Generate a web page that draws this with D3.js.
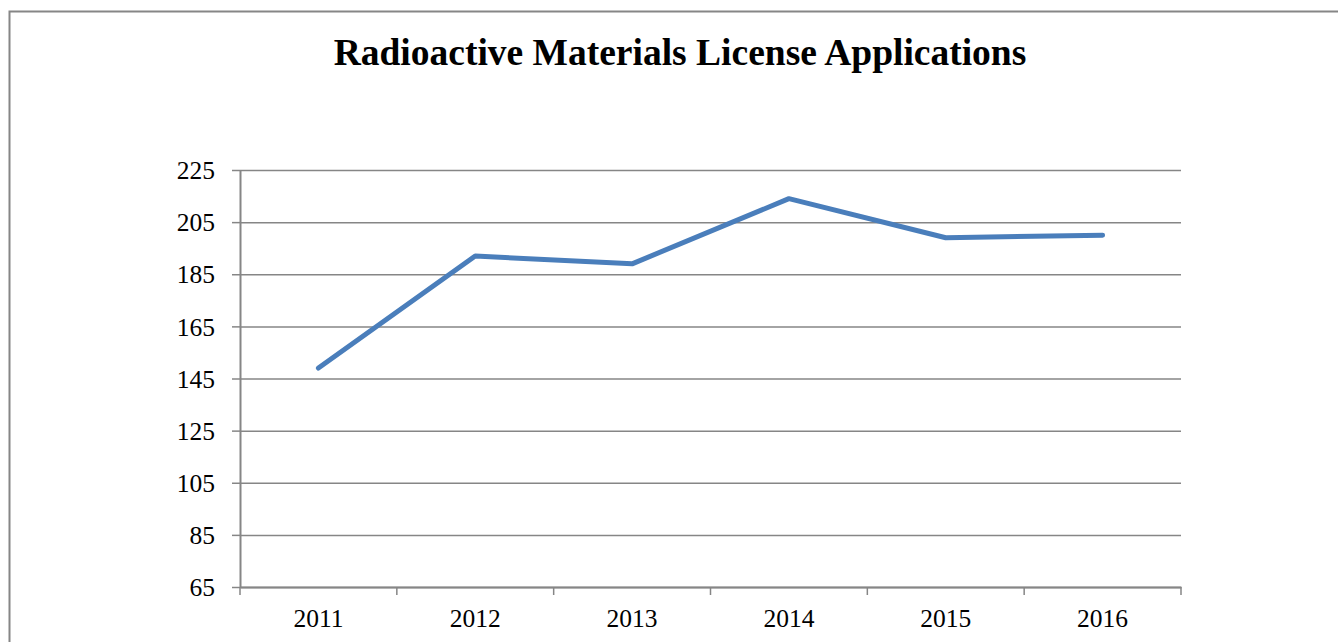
<!DOCTYPE html>
<html>
<head>
<meta charset="utf-8">
<script src="https://cdn.jsdelivr.net/npm/d3@7"></script>
<style>
  body { margin: 0; background: #fff; }
  svg { display: block; }
  text { font-family: "Liberation Serif", "Times New Roman", serif; fill: #000; }
</style>
</head>
<body>
<svg id="chart" width="1338" height="642"></svg>
<script>
// chart data
let years = ['2011', '2012', '2013', '2014', '2015', '2016'];
let applications = [149, 192, 189, 214, 199, 200];
let yTicks = [65, 85, 105, 125, 145, 165, 185, 205, 225];

let margin = {top: 170, right: 157, bottom: 55, left: 240},
    width = 1338 - margin.left - margin.right,
    height = 642 - margin.top - margin.bottom;

let gridColor = '#868686';
let lineColor = '#4a7ebb';

let svg = d3.select('svg#chart');

// outer frame (runs off the right and bottom of the picture)
svg.append('rect')
  .attr('x', 9.5)
  .attr('y', 11.5)
  .attr('width', 1400)
  .attr('height', 700)
  .attr('fill', 'none')
  .attr('stroke', gridColor)
  .attr('stroke-width', 2);

// title
svg.append('text')
  .attr('x', 680)
  .attr('y', 65)
  .attr('text-anchor', 'middle')
  .attr('font-size', 37.5)
  .attr('font-weight', 'bold')
  .text('Radioactive Materials License Applications');

let g = svg.append('g')
  .attr('transform', `translate(${margin.left}, ${margin.top})`);

let xScale = d3.scaleBand()
  .domain(years)
  .range([0, width])
  .padding(0);

let yScale = d3.scaleLinear()
  .domain([65, 225])
  .range([height, 0]);

// horizontal grid lines
g.append('g')
  .attr('class', 'grid')
  .call(d3.axisLeft(yScale)
    .tickValues(yTicks)
    .tickSize(-width)
    .tickFormat(''))
  .call(a => a.select('.domain').remove())
  .selectAll('line')
  .attr('stroke', gridColor)
  .attr('stroke-width', 1.5);

// y axis with outside ticks
let yAxis = g.append('g')
  .call(d3.axisLeft(yScale)
    .tickValues(yTicks)
    .tickSizeInner(8)
    .tickSizeOuter(0)
    .tickPadding(17));
yAxis.select('.domain').attr('stroke', gridColor).attr('stroke-width', 2);
yAxis.selectAll('line').attr('stroke', gridColor).attr('stroke-width', 1.5);
yAxis.selectAll('text')
  .attr('font-size', 25.5)
  .attr('font-family', '"Liberation Serif", "Times New Roman", serif')
  .attr('dy', '0.34em');

// x axis: labels at band centres, ticks at band edges
let xAxis = g.append('g')
  .attr('transform', `translate(0, ${height})`)
  .call(d3.axisBottom(xScale)
    .tickSize(0)
    .tickPadding(22));
xAxis.select('.domain').attr('stroke', gridColor).attr('stroke-width', 2);
xAxis.selectAll('text')
  .attr('font-size', 25.5)
  .attr('font-family', '"Liberation Serif", "Times New Roman", serif');

let edges = years.map(d => xScale(d)).concat([xScale.range()[1]]);
xAxis.selectAll('.edge')
  .data(edges)
  .enter()
  .append('line')
  .attr('class', 'edge')
  .attr('x1', d => d)
  .attr('x2', d => d)
  .attr('y1', 0)
  .attr('y2', 8)
  .attr('stroke', gridColor)
  .attr('stroke-width', 1.5);

// the series line
let points = years.map((y, i) => ({year: y, value: applications[i]}));

let line = d3.line()
  .x(d => xScale(d.year) + xScale.bandwidth() / 2)
  .y(d => yScale(d.value));

g.append('path')
  .datum(points)
  .attr('d', line)
  .attr('fill', 'none')
  .attr('stroke', lineColor)
  .attr('stroke-width', 5)
  .attr('stroke-linecap', 'round')
  .attr('stroke-linejoin', 'round');
</script>
</body>
</html>
